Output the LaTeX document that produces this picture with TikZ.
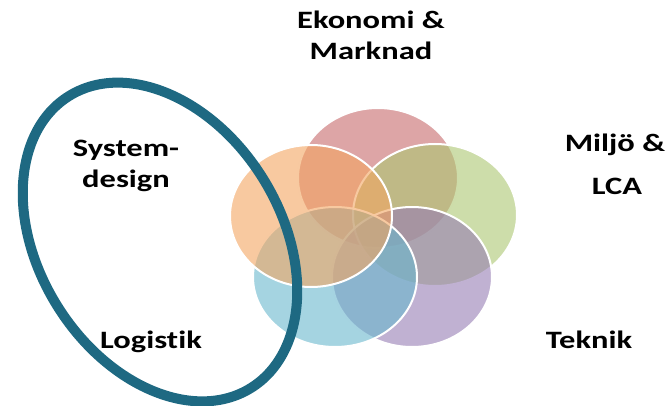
\documentclass[tikz,border=0pt]{standalone}
\usepackage{fontspec}
\setmainfont{Carlito}[FakeStretch=1.3,Ligatures=NoCommon]
\definecolor{petalred}{RGB}{198,105,107}
\definecolor{petalorange}{RGB}{243,165,97}
\definecolor{petalgreen}{RGB}{172,198,113}
\definecolor{petalblue}{RGB}{105,183,205}
\definecolor{petalpurple}{RGB}{150,125,180}
\definecolor{ringteal}{RGB}{30,105,130}
\tikzset{
  Petal/.style = { fill opacity = 0.6, draw = white, line width = 2pt },
  Label/.style = { font = \bfseries\fontsize{25}{31}\selectfont, align = center,
                   inner sep = 0pt } }

\begin{document}
\begin{tikzpicture}[x=1pt,y=1pt]
  \useasboundingbox (0,0) rectangle (669,405);
  % the five petals
  \filldraw[Petal,fill=petalred]    (378,227) ellipse [x radius=80, y radius=70];
  \filldraw[Petal,fill=petalgreen]  (435,190) ellipse [x radius=82, y radius=71];
  \filldraw[Petal,fill=petalpurple] (412,128) ellipse [x radius=80, y radius=70];
  \filldraw[Petal,fill=petalblue]   (335,128) ellipse [x radius=82, y radius=70];
  \filldraw[Petal,fill=petalorange] (311,189) ellipse [x radius=81, y radius=71];

  % the ring
  \draw[ringteal,line width=10pt,rotate around={-58:(160,163)}]
    (160,163) ellipse [x radius=172, y radius=121];

  \node[Label] (eko) at (371,370) {Ekonomi \&\\Marknad};
  \node[Label] (milj) at (615,260) {Milj\"o \&};
  \node[Label] (lca) at (617,219) {LCA};
  \node[Label] (tek) at (589,65) {Teknik};
  \node[Label] (sys) at (126,239) {System-\\design};
  \node[Label] (log) at (151,63) {Logistik};
\end{tikzpicture}
\end{document}
